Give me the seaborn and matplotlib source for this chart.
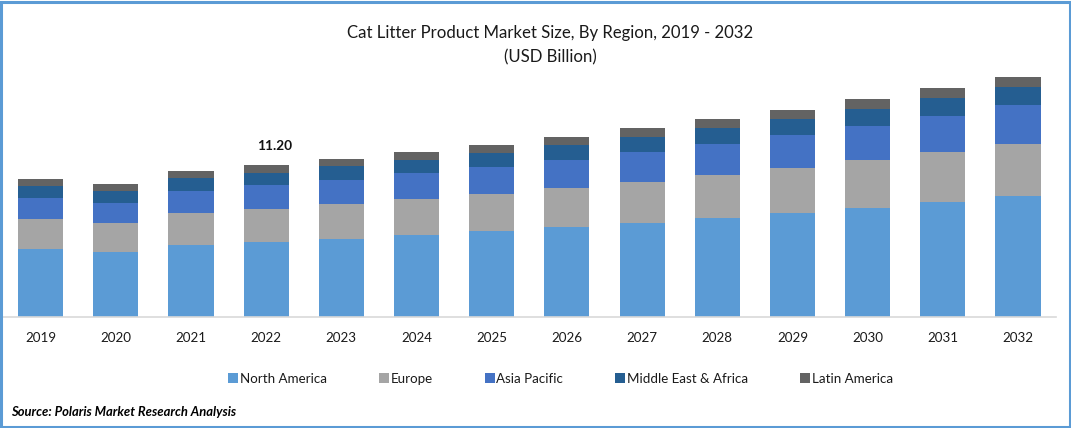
import matplotlib
matplotlib.use("Agg")
import matplotlib.pyplot as plt
from matplotlib.patches import Rectangle
import seaborn as sns
import pandas as pd

years = ["2019","2020","2021","2022","2023","2024","2025","2026","2027","2028","2029","2030","2031","2032"]
north_america = [5.01,4.79,5.31,5.53,5.75,6.04,6.34,6.63,6.93,7.30,7.66,8.03,8.47,8.92]
europe = [2.21,2.14,2.36,2.43,2.58,2.65,2.73,2.87,3.02,3.17,3.32,3.54,3.68,3.83]
asia_pacific = [1.55,1.47,1.62,1.77,1.77,1.92,1.99,2.06,2.21,2.28,2.43,2.51,2.65,2.87]
middle_east_africa = [0.88,0.88,0.96,0.88,1.03,0.96,1.03,1.11,1.11,1.18,1.18,1.25,1.33,1.33]
latin_america = [0.52,0.52,0.52,0.59,0.52,0.59,0.59,0.59,0.66,0.66,0.66,0.74,0.74,0.74]
series_names = ["North America","Europe","Asia Pacific","Middle East & Africa","Latin America"]
colors = ["#5B9BD5","#A5A5A5","#4472C4","#255E91","#636363"]
annotated_year = "2022"
annotated_label = "11.20"

sns.set_theme(style="white")
plt.rcParams['font.family'] = ['Lato','DejaVu Sans']
W,H = 1071,428
fig = plt.figure(figsize=(W/100,H/100),dpi=100,facecolor="white")
ax = fig.add_axes([3/W,1-317/H,1052.6/W,247/H])
ax.set_facecolor("white")

df = pd.DataFrame(dict(zip(series_names,[north_america,europe,asia_pacific,middle_east_africa,latin_america])),index=years)
bottom = pd.Series(0.0,index=years)
for name,c in zip(series_names,colors):
    sns.barplot(x=years,y=df[name].values,bottom=bottom.values,color=c,width=0.6,saturation=1,ax=ax,label=name,linewidth=0,order=years)
    bottom = bottom+df[name]

ax.set_ylim(0,247/13.57)
ax.set_xlim(-0.5,13.5)
ax.set_ylabel("")
ax.set_yticks([])
for s in ["top","left","right"]:
    ax.spines[s].set_visible(False)
ax.spines["bottom"].set_color("#D9D9D9")
ax.spines["bottom"].set_linewidth(1.2)
ax.tick_params(axis="x",length=0,pad=10.5,labelsize=9.6,labelcolor="#1a1a1a")

ax.annotate(annotated_label,(years.index(annotated_year),bottom[annotated_year]),xytext=(8,13),textcoords="offset pixels",
            ha="center",va="bottom",fontsize=9.8,fontweight="bold",color="#111111")

fig.text(550/W,1-33/H,"Cat Litter Product Market Size, By Region, 2019 - 2032",ha="center",va="center",fontsize=12.05,color="#1a1a1a")
fig.text(550/W,1-57/H,"(USD Billion)",ha="center",va="center",fontsize=12.05,color="#1a1a1a")

h,l = ax.get_legend_handles_labels()
leg = ax.legend(h,l,loc="center",bbox_to_anchor=(560.5/W,1-379/H),bbox_transform=fig.transFigure,ncol=5,frameon=False,
          fontsize=9.6,handlelength=0.75,handleheight=0.75,handletextpad=0.12,columnspacing=3.9,labelcolor="#1a1a1a")

fig.text(11/W,1-412/H,"Source: Polaris Market Research Analysis",ha="left",va="center",fontsize=9.4,fontweight="bold",fontstyle="italic",color="black")
fig.add_artist(Rectangle((1/W,1/H),(W-2.5)/W,(H-2.5)/H,transform=fig.transFigure,fill=False,edgecolor="#5B9BD5",linewidth=2.2))
fig.savefig("out.png",dpi=100,facecolor="white")
